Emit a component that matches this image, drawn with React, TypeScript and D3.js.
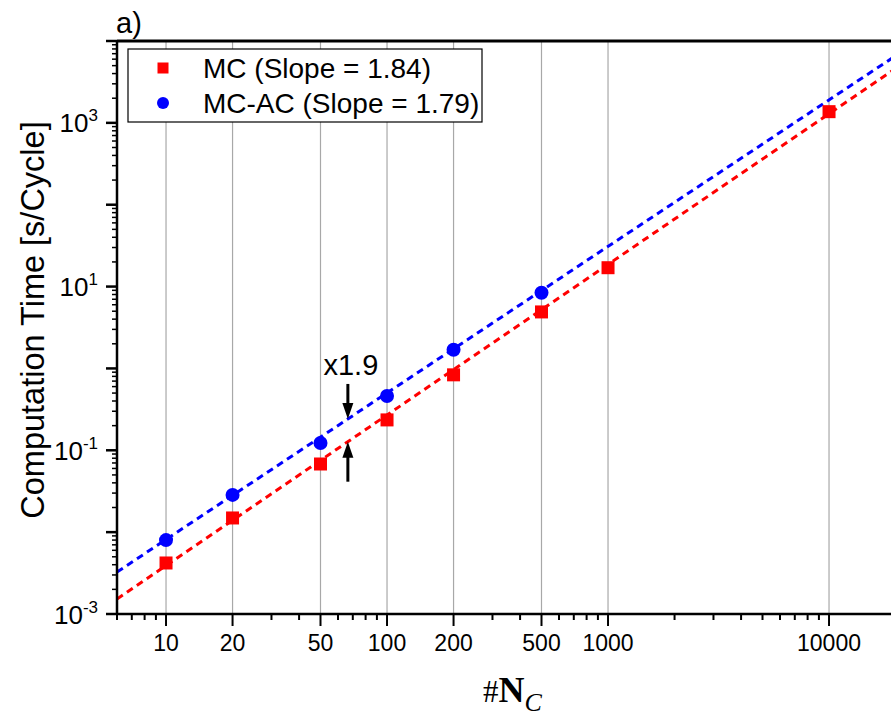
import React from "react";
import * as d3 from "d3";

// ---- data ----
const xLabelTicks = [10, 20, 50, 100, 200, 500, 1000, 10000];
const yLabelExps = [-3, -1, 1, 3];
const mcN = [10, 20, 50, 100, 200, 500, 1000, 10000];
const mcTime = [0.0042, 0.0149, 0.068, 0.235, 0.835, 4.9, 17, 1370];
const acN = [10, 20, 50, 100, 200, 500];
const acTime = [0.008, 0.0285, 0.123, 0.46, 1.69, 8.4];
const mcSlope = 1.84;
const mcLogA = -4.249;
const acSlope = 1.79;
const acLogA = -3.88;
const fitRange = [6, 20000];
const ratioAtN = 66.5;
const legendLabels = ["MC (Slope = 1.84)", "MC-AC (Slope = 1.79)"];

const W = 891;
const H = 718;
const L = 117;
const T = 41;
const B = 614;
const R = 891;

const FONT = "Arial, 'Liberation Sans', sans-serif";

export default function App() {
  const x = d3.scaleLog().domain([6, 20000]).range([L, L + 221 * Math.log10(20000 / 6)]);
  const y = d3.scaleLog().domain([1e-3, 1e4]).range([B, T]);

  const fit = (logA: number, s: number) => (n: number) => Math.pow(10, logA + s * Math.log10(n));
  const mcFit = fit(mcLogA, mcSlope);
  const acFit = fit(acLogA, acSlope);
  const mkLine = (f: (n: number) => number) =>
    d3
      .line<number>()
      .x((n) => x(n))
      .y((n) => y(f(n)))(fitRange) as string;

  const xTicks: { v: number; major: boolean }[] = [];
  for (let e = 0; e <= 4; e++) {
    for (let k = 1; k <= 9; k++) {
      const v = k * Math.pow(10, e);
      if (v >= 6 && v <= 20000) xTicks.push({ v, major: xLabelTicks.includes(v) });
    }
  }
  const yTicks: { v: number; major: boolean }[] = [];
  for (let e = -3; e <= 4; e++) {
    for (let k = 1; k <= 9; k++) {
      const v = k * Math.pow(10, e);
      if (v >= 1e-3 * 0.999 && v <= 1e4 * 1.001) yTicks.push({ v, major: k === 1 });
    }
  }

  const ax = x(ratioAtN);
  const acY = y(acFit(ratioAtN));
  const mcY = y(mcFit(ratioAtN));

  return (
    <svg
      width={W}
      height={H}
      style={{ position: "absolute", left: 0, top: 0, background: "#fff" }}
      fontFamily={FONT}
    >
      <defs>
        <clipPath id="plot">
          <rect x={L} y={T} width={R - L} height={B - T} />
        </clipPath>
      </defs>
      {xLabelTicks.map((v) => (
        <line key={"g" + v} x1={x(v)} x2={x(v)} y1={T} y2={B} stroke="#a8a8a8" strokeWidth={1.2} />
      ))}

      <rect x={128} y={49} width={354} height={73} fill="#fff" stroke="#000" strokeWidth={1.2} />
      <rect x={163 - 5.5} y={68 - 5.5} width={11} height={11} fill="#ff0000" />
      <circle cx={163} cy={103} r={6} fill="#0000ff" />
      <text x={203} y={78} fontSize={28}>{legendLabels[0]}</text>
      <text x={203} y={113} fontSize={28}>{legendLabels[1]}</text>

      <g clipPath="url(#plot)">
        <path d={mkLine(mcFit)} fill="none" stroke="#ff0000" strokeWidth={3} strokeDasharray="7,5" />
        <path d={mkLine(acFit)} fill="none" stroke="#0000ff" strokeWidth={3} strokeDasharray="7,5" />
      </g>

      {mcN.map((n, i) => (
        <rect key={"m" + n} x={x(n) - 6.5} y={y(mcTime[i]) - 6.5} width={13} height={13} fill="#ff0000" />
      ))}
      {acN.map((n, i) => (
        <circle key={"a" + n} cx={x(n)} cy={y(acTime[i])} r={7} fill="#0000ff" />
      ))}

      <text x={ax + 3} y={375} fontSize={29} textAnchor="middle">x1.9</text>
      <line x1={ax} x2={ax} y1={acY - 35} y2={acY - 12} stroke="#000" strokeWidth={3} />
      <path d={`M${ax - 5.5},${acY - 16} L${ax + 5.5},${acY - 16} L${ax},${acY} Z`} fill="#000" />
      <line x1={ax} x2={ax} y1={mcY + 40} y2={mcY + 12} stroke="#000" strokeWidth={3} />
      <path d={`M${ax - 5.5},${mcY + 16} L${ax + 5.5},${mcY + 16} L${ax},${mcY} Z`} fill="#000" />

      <line x1={L} x2={L} y1={T - 1} y2={B + 1} stroke="#000" strokeWidth={2.5} />
      <line x1={L - 1} x2={R} y1={B} y2={B} stroke="#000" strokeWidth={2.5} />
      <line x1={L} x2={R} y1={T} y2={T} stroke="#000" strokeWidth={3} />
      {xTicks.map((t) => (
        <line
          key={"xt" + t.v}
          x1={x(t.v)}
          x2={x(t.v)}
          y1={B}
          y2={B + (t.major ? 12 : 6)}
          stroke="#000"
          strokeWidth={2}
        />
      ))}
      {yTicks.map((t) => (
        <line
          key={"yt" + t.v}
          x1={L - (t.major ? 11 : 5)}
          x2={L}
          y1={y(t.v)}
          y2={y(t.v)}
          stroke="#000"
          strokeWidth={t.major ? 2.5 : 1.5}
        />
      ))}
      {xLabelTicks.map((v) => (
        <text key={"xl" + v} x={x(v)} y={651} fontSize={23} textAnchor="middle">
          {v}
        </text>
      ))}
      {yLabelExps.map((e) => (
        <text key={"yl" + e} x={98} y={y(Math.pow(10, e)) + 9.5} fontSize={26} textAnchor="end">
          10
          <tspan fontSize={17} dy={-11}>{String(e)}</tspan>
        </text>
      ))}

      <text x={116} y={33} fontSize={29}>a)</text>
      <text
        transform={`translate(44, 320) rotate(-90)`}
        textAnchor="middle"
        fontSize={32.5}
      >
        Computation Time [s/Cycle]
      </text>
      <text x={483} y={702} fontSize={31} fontFamily="'Liberation Serif', 'DejaVu Serif', serif">
        #<tspan fontWeight="bold" fontSize={36}>N</tspan>
        <tspan fontStyle="italic" fontSize={26} dy={9}>C</tspan>
      </text>
    </svg>
  );
}
